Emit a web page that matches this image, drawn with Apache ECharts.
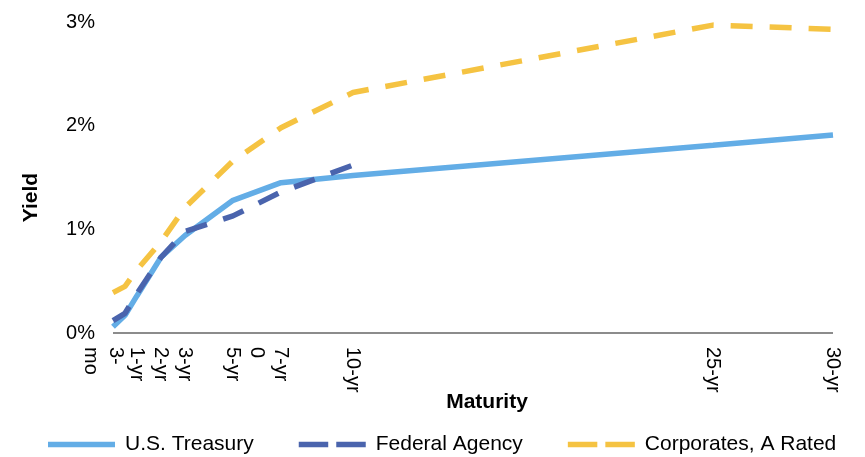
<!DOCTYPE html>
<html>
<head>
<meta charset="utf-8">
<script src="https://cdn.jsdelivr.net/npm/echarts@6/dist/echarts.min.js"></script>
<style>
html,body{margin:0;padding:0;background:#fff;}
#chart{width:865px;height:457px;}
</style>
</head>
<body>
<div id="chart"></div>
<script>
// Maturities in years
const maturities = [0, 0.5, 1, 2, 3, 5, 7, 10, 25, 30];
const treasury  = [0.06, 0.17, 0.36, 0.73, 0.94, 1.28, 1.45, 1.52, 1.81, 1.91];
const agency    = [0.12, 0.19, 0.38, 0.73, 0.98, 1.13, 1.36, 1.62, null, null];
const corporate = [0.39, 0.45, 0.61, 0.88, 1.21, 1.66, 1.98, 2.32, 2.97, 2.93];

// Tick label positions (years) and texts; the first entry is an empty spacer
const tickValues = [-0.5, -0.4, 1, 2, 3, 5, 6, 7, 10, 25, 30];
const tickLabels = ['', '3-\nmo', '1-yr', '2-yr', '3-yr', '5-yr', '0', '7-yr', '10-yr', '25-yr', '30-yr'];

const seriesNames = ['U.S. Treasury', 'Federal Agency', 'Corporates, A Rated'];

function pairs(ys) {
  return maturities.map((x, i) => ys[i] == null ? null : [x, ys[i]]).filter(p => p);
}

const FONT = 'Liberation Sans, Arial, sans-serif';
const SOLID_ICON = 'path://M0,0H75V6H0Z';
const DASH_ICON = 'path://M0,0H33V6H0Z M42,0H75V6H42Z';

const chart = echarts.init(document.getElementById('chart'));
chart.setOption({
  animation: false,
  grid: { left: 101, right: 32, top: 22, bottom: 124, containLabel: false },
  legend: {
    top: 429,
    left: 43,
    itemWidth: 67,
    itemHeight: 6,
    itemGap: 45,
    textStyle: { fontFamily: FONT, fontSize: 21, color: '#000', padding: [0, 0, 0, 5] },
    data: [
      { name: seriesNames[0], icon: SOLID_ICON },
      { name: seriesNames[1], icon: DASH_ICON },
      { name: seriesNames[2], icon: DASH_ICON }
    ]
  },
  xAxis: {
    type: 'value',
    min: -0.5,
    max: 30,
    name: 'Maturity',
    nameLocation: 'middle',
    nameGap: 59,
    nameMoveOverlap: false,
    nameTextStyle: { fontFamily: FONT, fontSize: 21, fontWeight: 'bold', color: '#000', padding: [0, 0, 0, 40] },
    axisLine: { show: false },
    axisTick: { show: false },
    splitLine: { show: false },
    axisLabel: {
      customValues: tickValues,
      showMinLabel: false,
      showMaxLabel: true,
      hideOverlap: false,
      rotate: -90,
      margin: 14,
      fontFamily: FONT,
      fontSize: 20,
      color: '#000',
      lineHeight: 25,
      formatter: function (v) {
        const i = tickValues.indexOf(v);
        return i >= 0 ? tickLabels[i] : '';
      }
    }
  },
  yAxis: {
    type: 'value',
    min: 0,
    max: 3,
    interval: 1,
    name: 'Yield',
    nameLocation: 'middle',
    nameGap: 59,
    nameMoveOverlap: false,
    nameTextStyle: { fontFamily: FONT, fontSize: 21, fontWeight: 'bold', color: '#000', padding: [0, 40, 0, 0] },
    axisLine: { show: false },
    axisTick: { show: false },
    splitLine: { show: false },
    axisLabel: {
      margin: 6,
      fontFamily: FONT,
      fontSize: 20,
      color: '#000',
      formatter: '{value}%'
    }
  },
  series: [
    {
      name: seriesNames[0], type: 'line', data: pairs(treasury), symbol: 'none',
      color: '#63ade6',
      lineStyle: { width: 5.5, color: '#63ade6' },
      z: 2,
      markLine: {
        silent: true,
        symbol: ['none', 'none'],
        label: { show: false },
        lineStyle: { type: 'solid', color: '#8c8c8c', width: 2 },
        z: 1,
        data: [[{ coord: [maturities[0], 0] }, { coord: [maturities[maturities.length - 1], 0] }]]
      }
    },
    {
      name: seriesNames[1], type: 'line', data: pairs(agency), symbol: 'none',
      color: '#4a64ad',
      lineStyle: { width: 5.5, color: '#4a64ad', type: [22, 17], cap: 'butt' },
      z: 3
    },
    {
      name: seriesNames[2], type: 'line', data: pairs(corporate), symbol: 'none',
      color: '#f5c342',
      lineStyle: { width: 5.5, color: '#f5c342', type: [22, 17], cap: 'butt' },
      z: 4
    }
  ]
});
</script>
</body>
</html>
